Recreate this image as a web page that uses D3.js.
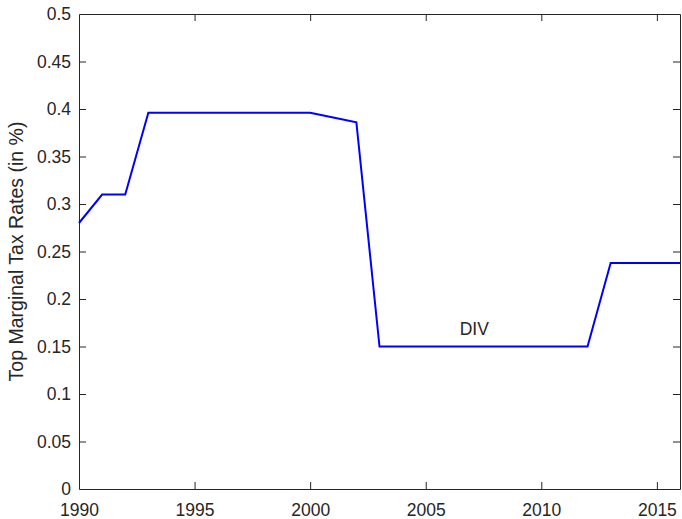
<!DOCTYPE html>
<html>
<head>
<meta charset="utf-8">
<script src="https://cdn.jsdelivr.net/npm/d3@7"></script>
<style>
  html, body { margin: 0; padding: 0; background: #fff; }
  svg { display: block; }
  text { font-family: "Liberation Sans", Arial, Helvetica, sans-serif; fill: #262626; }
</style>
</head>
<body>
<svg id="chart" width="682" height="519"></svg>
<script>
// Top marginal tax rate on dividends, by year
const years = [1990, 1991, 1992, 1993, 1994, 1995, 1996, 1997, 1998, 1999, 2000, 2001, 2002, 2003,
               2004, 2005, 2006, 2007, 2008, 2009, 2010, 2011, 2012, 2013, 2014, 2015, 2016];
const divRates = [0.28, 0.31, 0.31, 0.396, 0.396, 0.396, 0.396, 0.396, 0.396, 0.396, 0.396, 0.391, 0.386, 0.15,
                  0.15, 0.15, 0.15, 0.15, 0.15, 0.15, 0.15, 0.15, 0.15, 0.238, 0.238, 0.238, 0.238];
const xTicks = [1990, 1995, 2000, 2005, 2010, 2015];
const yTicks = [0, 0.05, 0.1, 0.15, 0.2, 0.25, 0.3, 0.35, 0.4, 0.45, 0.5];
const seriesLabel = "DIV";
const labelPos = [2007.1, 0.162];
const yTitle = "Top Marginal Tax Rates (in %)";

const svg = d3.select("#chart");
const plotLeft = 79, plotRight = 680, plotTop = 14, plotBottom = 489;
const axisColor = "#262626";
const tickLen = 7;
const tickFont = "17.5px";

const x = d3.scaleLinear().domain([1990, 2016]).range([plotLeft, plotRight]);
const y = d3.scaleLinear().domain([0, 0.5]).range([plotBottom, plotTop]);

// Bottom axis with labels, ticks pointing inward
const xAxis = svg.append("g").attr("transform", `translate(0,${plotBottom})`)
  .call(d3.axisBottom(x).tickValues(xTicks).tickFormat(d3.format("d")).tickSizeInner(-tickLen).tickSizeOuter(0).tickPadding(14.5));
// Left axis with labels
const yAxis = svg.append("g").attr("transform", `translate(${plotLeft},0)`)
  .call(d3.axisLeft(y).tickValues(yTicks).tickFormat(d => String(+d.toFixed(2))).tickSizeInner(-tickLen).tickSizeOuter(0).tickPadding(8));
// Top and right axes: ticks only
const xTop = svg.append("g").attr("transform", `translate(0,${plotTop})`)
  .call(d3.axisTop(x).tickValues(xTicks).tickFormat("").tickSizeInner(-tickLen).tickSizeOuter(0));
const yRight = svg.append("g").attr("transform", `translate(${plotRight},0)`)
  .call(d3.axisRight(y).tickValues(yTicks).tickFormat("").tickSizeInner(-tickLen).tickSizeOuter(0));

[xAxis, yAxis, xTop, yRight].forEach(g => {
  g.selectAll(".domain").attr("stroke", axisColor).attr("stroke-width", 1);
  g.selectAll(".tick line").attr("stroke", axisColor).attr("stroke-width", 1);
  g.selectAll(".tick text").attr("fill", axisColor).style("font-size", tickFont)
    .style("font-family", "'Liberation Sans', Arial, sans-serif");
});
// Hide inward ticks that sit on the frame corners
xAxis.selectAll(".tick").filter(d => d === 1990).select("line").remove();
xTop.selectAll(".tick").filter(d => d === 1990).select("line").remove();
yAxis.selectAll(".tick").filter(d => d === 0 || d === 0.5).select("line").remove();
yRight.selectAll(".tick").filter(d => d === 0 || d === 0.5).select("line").remove();

// Series line
const line = d3.line().x((d, i) => x(years[i])).y(d => y(d));
svg.append("path")
  .datum(divRates)
  .attr("fill", "none")
  .attr("stroke", "#0000ff")
  .attr("stroke-width", 2)
  .attr("stroke-linejoin", "miter")
  .attr("d", line);

// Series label
svg.append("text")
  .attr("x", x(labelPos[0]))
  .attr("y", y(labelPos[1]))
  .attr("text-anchor", "middle")
  .style("font-size", tickFont)
  .attr("fill", "#000")
  .text(seriesLabel);

// Y-axis title
svg.append("text")
  .attr("transform", `translate(23,${(plotTop + plotBottom) / 2}) rotate(-90)`)
  .attr("text-anchor", "middle")
  .style("font-size", "19.5px")
  .text(yTitle);
</script>
</body>
</html>
